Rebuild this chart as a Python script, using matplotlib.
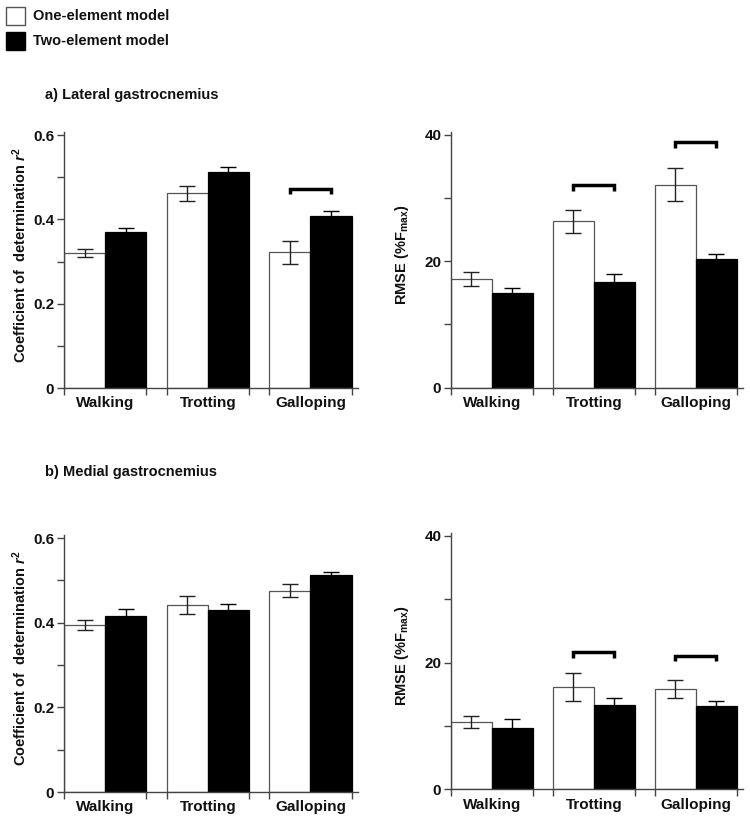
import matplotlib
matplotlib.use('Agg')
import matplotlib.pyplot as plt
from matplotlib.patches import Rectangle
import numpy as np

plt.rcParams['font.family'] = ['Liberation Sans', 'DejaVu Sans']
plt.rcParams['font.weight'] = 'bold'
plt.rcParams['mathtext.fontset'] = 'custom'
plt.rcParams['mathtext.rm'] = 'Liberation Sans:bold'
plt.rcParams['mathtext.it'] = 'Liberation Sans:bold:italic'
plt.rcParams['mathtext.bf'] = 'Liberation Sans:bold'

# data (mean and error)
categories = ['Walking', 'Trotting', 'Galloping']

lat_r2_one = [0.320, 0.462, 0.322]
lat_r2_one_err = [0.009, 0.018, 0.027]
lat_r2_two = [0.371, 0.513, 0.409]
lat_r2_two_err = [0.009, 0.012, 0.010]

lat_rmse_one = [17.2, 26.3, 32.1]
lat_rmse_one_err = [1.1, 1.8, 2.6]
lat_rmse_two = [14.9, 16.7, 20.3]
lat_rmse_two_err = [0.8, 1.3, 0.9]

med_r2_one = [0.394, 0.441, 0.476]
med_r2_one_err = [0.012, 0.021, 0.015]
med_r2_two = [0.417, 0.429, 0.513]
med_r2_two_err = [0.015, 0.014, 0.007]

med_rmse_one = [10.6, 16.1, 15.8]
med_rmse_one_err = [1.0, 2.2, 1.4]
med_rmse_two = [9.7, 13.3, 13.2]
med_rmse_two_err = [1.4, 1.1, 0.8]

# significance brackets (height, None = no bracket)
lat_r2_brackets = [None, None, 0.473]
lat_rmse_brackets = [None, 32.0, 38.8]
med_r2_brackets = [None, None, None]
med_rmse_brackets = [None, 21.6, 21.1]

W, H = 750, 818
fig = plt.figure(figsize=(W / 100, H / 100), dpi=100)
txt = '#111111'
spine_col = '#444444'
w = 0.402  # bar width


def panel(rect, one, one_err, two, two_err, brackets, ymax, major, minor, ylabel, labx):
    ax = fig.add_axes(rect)
    x = np.arange(len(categories))
    ax.bar(x - w / 2, one, w, color='white', edgecolor='#555555', linewidth=0.9, zorder=2)
    ax.bar(x + w / 2, two, w, color='black', edgecolor='black', linewidth=0.9, zorder=2)
    ax.errorbar(x - w / 2, one, yerr=one_err, fmt='none', ecolor='#222222',
                elinewidth=1.0, capsize=6, capthick=1.0, zorder=3)
    ax.errorbar(x + w / 2, two, yerr=two_err, fmt='none', ecolor='black',
                elinewidth=1.0, capsize=6, capthick=1.0, zorder=3)
    tip = 0.022 * ymax
    for i, b in enumerate(brackets):
        if b is None:
            continue
        ax.plot([i - w / 2, i - w / 2, i + w / 2, i + w / 2], [b - tip, b, b, b - tip],
                color='black', lw=2.5, solid_capstyle='butt', solid_joinstyle='miter', zorder=4)
    ax.set_xlim(-w, len(categories) - 1 + w + 0.062)
    ax.set_ylim(0, ymax * 1.012)
    ax.spines['top'].set_visible(False)
    ax.spines['right'].set_visible(False)
    for s in ('left', 'bottom'):
        ax.spines[s].set_color(spine_col)
        ax.spines[s].set_linewidth(1.0)
    ax.set_yticks(major)
    ax.set_yticklabels(['0' if v == 0 else ('%g' % v) for v in major], fontsize=11,
                       color=txt, fontweight='bold')
    ax.set_yticks(minor, minor=True)
    edges = []
    for i in x:
        edges += [i - w, i + w]
    ax.set_xticks(edges)
    ax.set_xticklabels([''] * len(edges))
    ax.set_xticks(x, minor=True)
    ax.set_xticklabels(categories, minor=True, fontsize=11, color=txt, fontweight='bold')
    ax.tick_params(axis='both', which='both', direction='out', length=5, width=1.0,
                   color=spine_col, pad=2)
    ax.tick_params(axis='x', which='minor', length=0, pad=6)
    # y label
    pos = ax.get_position()
    fig.text(labx / W, pos.y0 + pos.height * 0.52, ylabel, rotation=90, ha='center',
             va='center', fontsize=10.5, color=txt, fontweight='bold')
    return ax


r2_label = 'Coefficient of  determination $r^2$'
rmse_label = 'RMSE (%F$_{\\mathrm{max}}$)'

panel([64 / W, 1 - 388 / H, 294 / W, 256 / H], lat_r2_one, lat_r2_one_err,
      lat_r2_two, lat_r2_two_err, lat_r2_brackets, 0.6,
      [0, 0.2, 0.4, 0.6], [0.1, 0.3, 0.5], r2_label, 20)
panel([451 / W, 1 - 387.7 / H, 292 / W, 256 / H], lat_rmse_one, lat_rmse_one_err,
      lat_rmse_two, lat_rmse_two_err, lat_rmse_brackets, 40,
      [0, 20, 40], [10, 30], rmse_label, 402)
panel([64 / W, 1 - 792 / H, 294 / W, 257 / H], med_r2_one, med_r2_one_err,
      med_r2_two, med_r2_two_err, med_r2_brackets, 0.6,
      [0, 0.2, 0.4, 0.6], [0.1, 0.3, 0.5], r2_label, 20)
panel([451 / W, 1 - 789.3 / H, 292 / W, 256.5 / H], med_rmse_one, med_rmse_one_err,
      med_rmse_two, med_rmse_two_err, med_rmse_brackets, 40,
      [0, 20, 40], [10, 30], rmse_label, 402)

# legend
fig.patches.append(Rectangle((6 / W, 1 - 24.5 / H), 19 / W, 17 / H, transform=fig.transFigure,
                             facecolor='white', edgecolor='#555555', linewidth=1.0))
fig.patches.append(Rectangle((6 / W, 1 - 49.5 / H), 19 / W, 17 / H, transform=fig.transFigure,
                             facecolor='black', edgecolor='black', linewidth=1.0))
fig.text(33 / W, 1 - 15.5 / H, 'One-element model', ha='left', va='center', fontsize=10.5,
         color=txt, fontweight='bold')
fig.text(33 / W, 1 - 41 / H, 'Two-element model', ha='left', va='center', fontsize=10.5,
         color=txt, fontweight='bold')

# panel titles
fig.text(45 / W, 1 - 95 / H, 'a) Lateral gastrocnemius', ha='left', va='center', fontsize=10.5,
         color=txt, fontweight='bold')
fig.text(45 / W, 1 - 472 / H, 'b) Medial gastrocnemius', ha='left', va='center', fontsize=10.5,
         color=txt, fontweight='bold')

fig.savefig('out.png', dpi=100)
